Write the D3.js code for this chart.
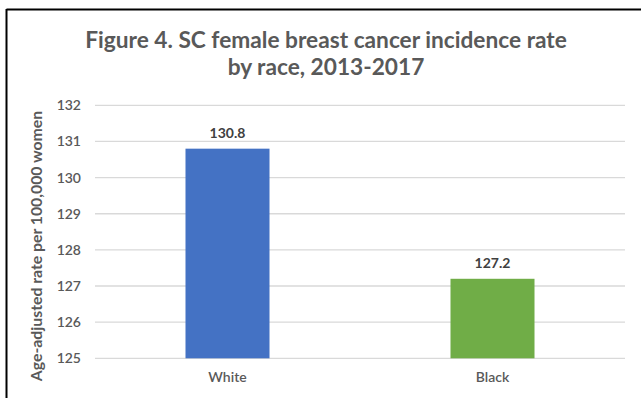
<!DOCTYPE html>
<html><head><meta charset="utf-8">
<script src="https://cdn.jsdelivr.net/npm/d3@7"></script>
<style>html,body{margin:0;padding:0;background:#fff;}svg{display:block;font-family:Lato,"Open Sans",sans-serif;}</style>
</head><body>
<svg id="c" width="641" height="398"></svg>
<script>
const categories = ["White", "Black"];
const values = [130.8, 127.2];
const colors = ["#4472C4", "#70AD47"];
const yTicks = [125, 126, 127, 128, 129, 130, 131, 132];
const titleLines = ["Figure 4. SC female breast cancer incidence rate", "by race, 2013-2017"];
const yTitle = "Age-adjusted rate per 100,000 women";

const svg = d3.select("#c");
// frame (top and left edges visible)
svg.append("line").attr("x1",6.5).attr("x2",641).attr("y1",9.5).attr("y2",9.5).attr("stroke","#000").attr("stroke-width",2);
svg.append("line").attr("x1",6.5).attr("x2",6.5).attr("y1",9).attr("y2",398).attr("stroke","#000").attr("stroke-width",2);

const m = {left:95, right:625, top:105.3, bottom:358.3};
const x = d3.scaleBand().domain(categories).range([m.left, m.right]).paddingInner(0.683).paddingOuter(0.3415);
const y = d3.scaleLinear().domain([125,132]).range([m.bottom, m.top]);

// gridlines
svg.append("g").selectAll("line").data(yTicks).join("line")
  .attr("x1",m.left).attr("x2",m.right)
  .attr("y1",d=>y(d)).attr("y2",d=>y(d))
  .attr("stroke","#d9d9d9").attr("stroke-width",1.3);

// y axis labels
const yAxis = d3.axisLeft(y).tickValues(yTicks).tickSize(0).tickPadding(0).tickFormat(d3.format("d"));
const ya = svg.append("g").attr("transform",`translate(81,0)`).call(yAxis);
ya.select(".domain").remove();
ya.selectAll("text").attr("fill","#595959").style("font-size","14px").style("font-weight","600").attr("font-family","Lato");

// bars
svg.append("g").selectAll("rect").data(values).join("rect")
  .attr("x",(d,i)=>x(categories[i])).attr("width",x.bandwidth())
  .attr("y",d=>y(d)).attr("height",d=>y(125)-y(d))
  .attr("fill",(d,i)=>colors[i]);

// value labels
svg.append("g").selectAll("text").data(values).join("text")
  .attr("x",(d,i)=>x(categories[i])+x.bandwidth()/2)
  .attr("y",d=>y(d)-11)
  .attr("text-anchor","middle").attr("fill","#404040")
  .style("font-size","14px").style("font-weight","bold")
  .text(d=>d.toFixed(1));

// x axis labels
const xAxis = d3.axisBottom(x).tickSize(0).tickPadding(0);
const xa = svg.append("g").attr("transform",`translate(0,${m.bottom+14})`).call(xAxis);
xa.select(".domain").remove();
xa.selectAll("text").attr("fill","#595959").style("font-size","14px").style("font-weight","600").attr("font-family","Lato");

// title
svg.append("text").attr("text-anchor","middle").attr("fill","#595959")
  .style("font-size","22.7px").style("font-weight","bold")
  .selectAll("tspan").data(titleLines).join("tspan")
  .attr("x",326).attr("y",(d,i)=>48+i*27).text(d=>d);

// y title
svg.append("text").attr("transform",`translate(42,246) rotate(-90)`)
  .attr("text-anchor","middle").attr("fill","#595959")
  .style("font-size","15.8px").style("font-weight","bold").text(yTitle);
</script>
</body></html>
